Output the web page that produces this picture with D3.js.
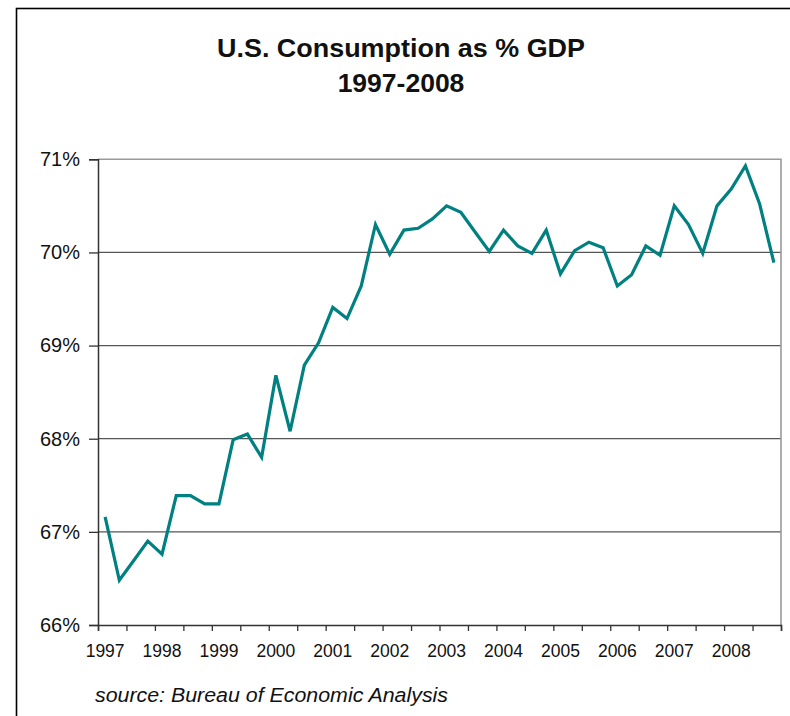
<!DOCTYPE html>
<html><head><meta charset="utf-8">
<script src="https://cdn.jsdelivr.net/npm/d3@7"></script>
<style>body{margin:0;background:#fff}svg{display:block}</style>
</head><body>
<svg id="c" width="790" height="716"></svg>
<script>
const years = [1997,1998,1999,2000,2001,2002,2003,2004,2005,2006,2007,2008];
const quarters = ["Q1","Q2","Q3","Q4"];
const categories = years.flatMap(yr => quarters.map(q => yr + q));
const values = [
  67.16, 66.48, 66.69, 66.90,
  66.76, 67.39, 67.39, 67.30,
  67.30, 67.99, 68.05, 67.80,
  68.68, 68.08, 68.79, 69.03,
  69.41, 69.29, 69.64, 70.30,
  69.98, 70.24, 70.26, 70.36,
  70.50, 70.43, 70.22, 70.01,
  70.24, 70.07, 69.99, 70.24,
  69.77, 70.02, 70.11, 70.05,
  69.64, 69.76, 70.07, 69.97,
  70.50, 70.30, 69.99, 70.50,
  70.68, 70.93, 70.52, 69.89
];
const yTicks = [66,67,68,69,70,71];
const titleLines = ["U.S. Consumption as % GDP", "1997-2008"];
const sourceText = "source: Bureau of Economic Analysis";

const svg = d3.select("#c");
const font = "'Liberation Sans', Arial, Helvetica, sans-serif";

// outer frame
svg.append("rect").attr("x",16.5).attr("y",8.5).attr("width",800).attr("height",800)
  .attr("fill","none").attr("stroke","#000").attr("stroke-width",1.6);

const L = 98, R = 781, T = 159.3, B = 625;
const x = d3.scaleBand().domain(categories).range([L,R]).padding(0);
const xi = d3.scaleLinear().domain([0,categories.length]).range([L,R]);
const y = d3.scaleLinear().domain([66,71]).range([B,T]);

// gridlines
svg.append("g").selectAll("line").data(yTicks.filter(t=>t>66 && t<71)).join("line")
  .attr("x1",L).attr("x2",R).attr("y1",d=>y(d)).attr("y2",d=>y(d))
  .attr("stroke","#555").attr("stroke-width",1.2);
// plot border top/right
svg.append("path").attr("d",`M${L},${y(71)}H${R}V${B}`).attr("fill","none")
  .attr("stroke","#9a9a9a").attr("stroke-width",1.6);

// left axis
const ya = svg.append("g").attr("transform",`translate(${L},0)`)
  .call(d3.axisLeft(y).tickValues(yTicks).tickSize(9).tickPadding(9).tickFormat(d=>d+"%"));
ya.select(".domain").attr("stroke","#333").attr("stroke-width",1.5);
ya.selectAll(".tick line").attr("stroke","#333").attr("stroke-width",1.3);
ya.selectAll("text").attr("font-family",font).attr("font-size",20).attr("fill","#111");

// bottom axis tick marks (every two quarters)
const xt = svg.append("g").attr("transform",`translate(0,${B})`)
  .call(d3.axisBottom(xi).tickValues(d3.range(0,categories.length+1,2)).tickSize(6).tickFormat(""));
xt.select(".domain").attr("stroke","#333").attr("stroke-width",1.5);
xt.selectAll(".tick line").attr("stroke","#333").attr("stroke-width",1.3);

// bottom axis labels (years)
const xl = svg.append("g").attr("transform",`translate(0,${B})`)
  .call(d3.axisBottom(x).tickValues(categories.filter((c,i)=>i%4===0)).tickSize(0).tickPadding(20)
    .tickFormat(c=>c.slice(0,4)));
xl.select(".domain").remove();
xl.selectAll("text").attr("font-family",font).attr("font-size",17.5).attr("fill","#111");

// line
svg.append("path").datum(values)
  .attr("d", d3.line().x((d,i)=>x(categories[i])+x.bandwidth()/2).y(d=>y(d)))
  .attr("fill","none").attr("stroke","#008080").attr("stroke-width",3.2)
  .attr("stroke-linejoin","miter");

// title
svg.append("g").selectAll("text").data(titleLines).join("text")
  .attr("x",401).attr("y",(d,i)=>i===0?57:92)
  .attr("text-anchor","middle").attr("font-family",font).attr("font-weight","bold")
  .attr("font-size",26.5).attr("fill","#111")
  .each(function(d,i){ if(i===0) d3.select(this).attr("textLength",368).attr("lengthAdjust","spacingAndGlyphs"); })
  .text(d=>d);

// source
svg.append("text").attr("x",95).attr("y",702).attr("font-family",font)
  .attr("font-style","italic").attr("font-size",19.5).attr("fill","#111")
  .attr("textLength",353).attr("lengthAdjust","spacingAndGlyphs").text(sourceText);
</script>
</body></html>
